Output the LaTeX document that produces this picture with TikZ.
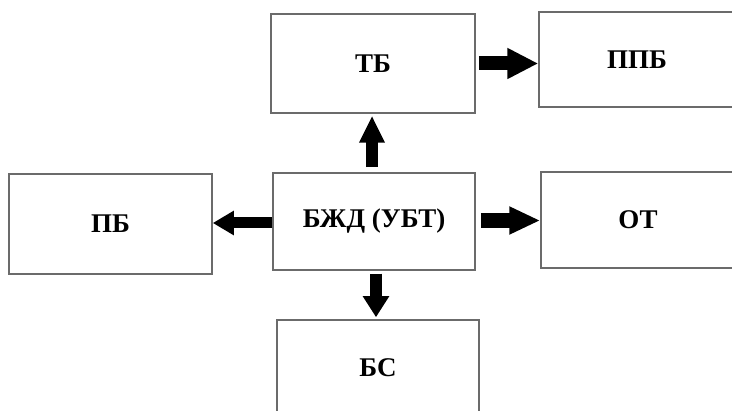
\documentclass[tikz,border=0pt]{standalone}
\usepackage{fontspec}
\setmainfont{Liberation Serif}
\usetikzlibrary{arrows.meta}
\begin{document}
\begin{tikzpicture}[x=1pt,y=-1pt,
  box/.style={draw=black!58,line width=1.5pt,rectangle,inner sep=0pt,
    font=\fontsize{27}{30}\selectfont\bfseries},
  arr/.style={line width=#1,draw=black},
]
\useasboundingbox (0,0) rectangle (732,411);
\clip (0,0) rectangle (732,411);
\fill[white] (0,0) rectangle (732,411);
\node[box,minimum width=204pt,minimum height=99pt] (tb) at (373,63.5) {ТБ};
\node[box,minimum width=196pt,minimum height=95pt] (ppb) at (637,59.5) {ППБ};
\node[box,minimum width=203pt,minimum height=100pt] (pb) at (110.5,224) {ПБ};
\node[box,minimum width=202pt,minimum height=97pt] (bzd) at (374,221.5) {БЖД (УБТ)};
\node[box,minimum width=194pt,minimum height=96pt] (ot) at (638,220) {ОТ};
\node[box,minimum width=202pt,minimum height=96pt] (bs) at (378,368) {БС};
% arrow anchor points
\coordinate (bzdE) at ([yshift=1pt]bzd.east);
\coordinate (bzdW) at ([yshift=-1.5pt]bzd.west);
\coordinate (bzdN) at ([xshift=-2pt]bzd.north);
\coordinate (bzdS) at ([xshift=2pt]bzd.south);
% arrows
\draw[arr=14pt,-{Triangle[length=31pt,width=29pt]},shorten <=3pt] (tb.east) -- (ppb.west |- tb.east);
\draw[arr=15pt,-{Triangle[length=31pt,width=26pt]},shorten <=5pt] (bzdE) -- (ot.west |- bzdE);
\draw[arr=11pt,-{Triangle[length=21pt,width=23pt]}] (bzdW) -- (pb.east |- bzdW);
\draw[arr=12pt,-{Triangle[length=27pt,width=24pt]},shorten <=5pt,shorten >=2pt] (bzdN) -- (tb.south -| bzdN);
\draw[arr=12pt,-{Triangle[length=21pt,width=25pt]},shorten <=3pt,shorten >=2pt] (bzdS) -- (bs.north -| bzdS);
\end{tikzpicture}
\end{document}
